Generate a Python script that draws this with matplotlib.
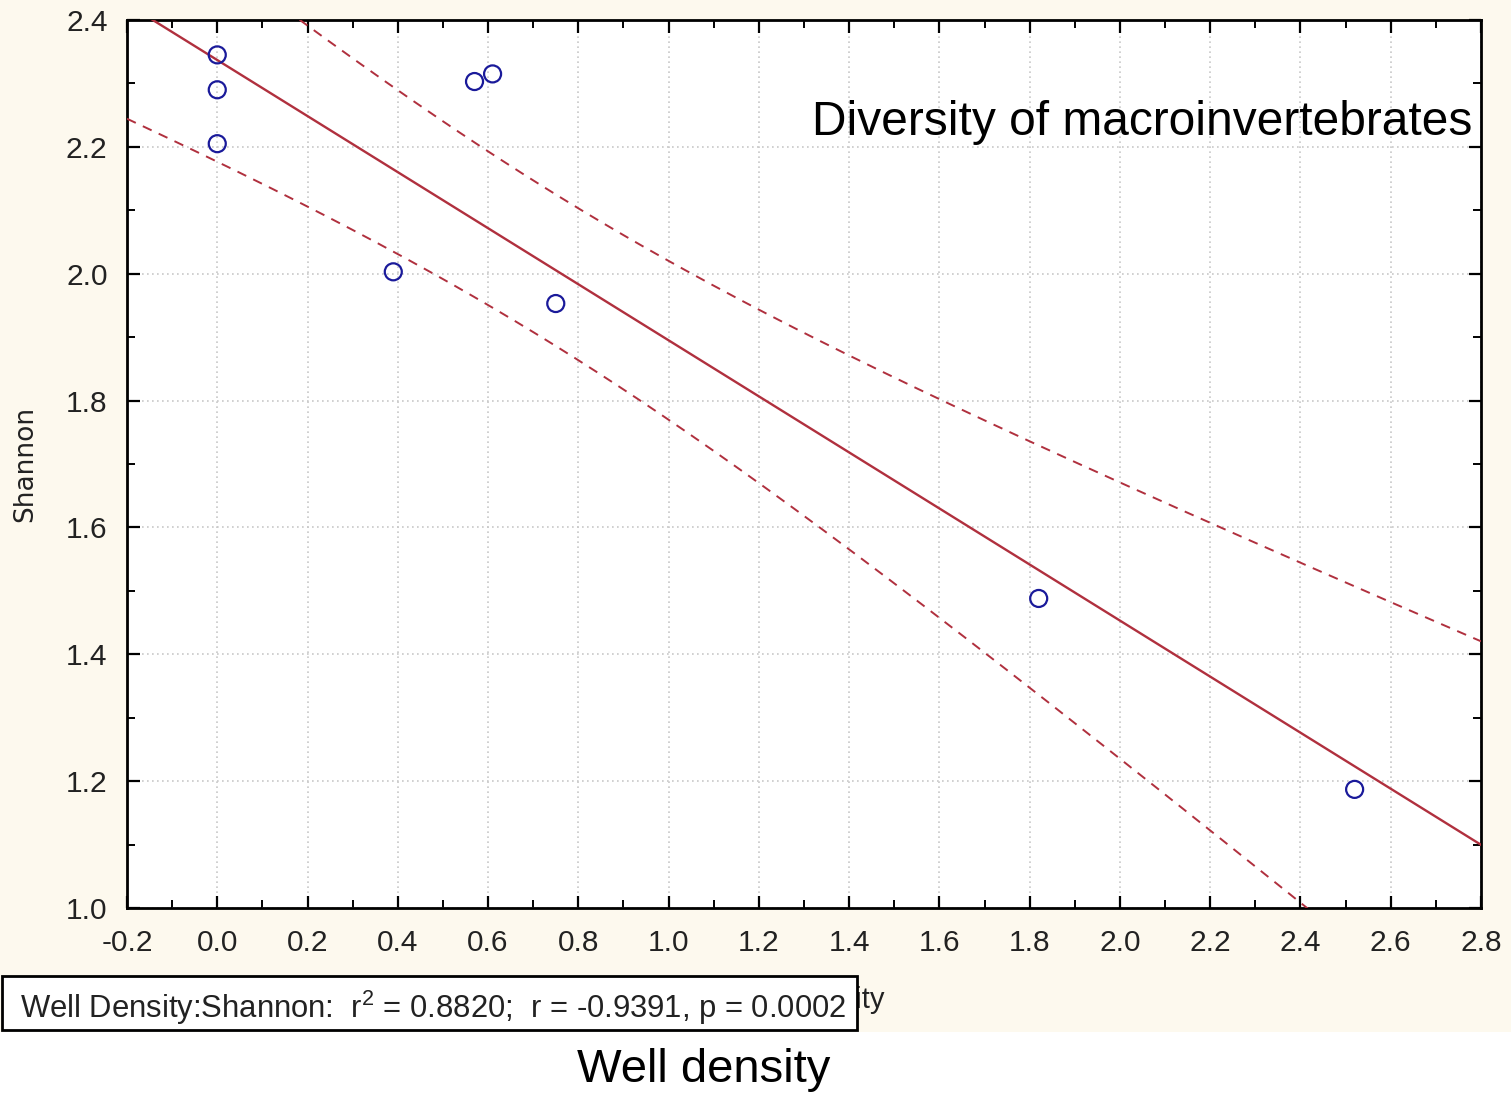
import numpy as np
import matplotlib.pyplot as plt
from matplotlib.patches import Rectangle
from matplotlib.ticker import MultipleLocator

# =========================================================
# DATA
# =========================================================
well_density = [0.0, 0.0, 0.0, 0.39, 0.57, 0.61, 0.75, 1.82, 2.52]
shannon      = [2.345, 2.29, 2.205, 2.003, 2.303, 2.315, 1.953, 1.488, 1.187]

STATS_TEXT = "Well Density:Shannon:  r$^2$ = 0.8820;  r = -0.9391, p = 0.0002"
T_CRIT     = 2.365   # t(0.975, df=7)

LINE_COL = "#b0303e"
MARK_COL = "#1a1a9a"
CREAM    = "#fdf9ee"

plt.rcParams["font.family"] = ["Liberation Sans", "DejaVu Sans"]
plt.rcParams["mathtext.fontset"] = "custom"
plt.rcParams["mathtext.rm"] = "Liberation Sans"

# =========================================================
# FIT + 95% CI of the mean
# =========================================================
x = np.array(well_density)
y = np.array(shannon)
n = len(x)
slope, icpt = np.polyfit(x, y, 1)
resid = y - (icpt + slope * x)
s = np.sqrt(np.sum(resid ** 2) / (n - 2))
sxx = np.sum((x - x.mean()) ** 2)

xs = np.linspace(-0.2, 2.8, 200)
ys = icpt + slope * xs
half = T_CRIT * s * np.sqrt(1 / n + (xs - x.mean()) ** 2 / sxx)

# =========================================================
# FIGURE
# =========================================================
W, H = 1511, 1097
fig = plt.figure(figsize=(W / 100, H / 100), dpi=100, facecolor="white")
fig.patches.append(Rectangle((0, 1 - 1032 / H), 1, 1032 / H, transform=fig.transFigure,
                             facecolor=CREAM, edgecolor="none", zorder=-10))

ax = fig.add_axes([127 / W, 1 - 908 / H, (1481 - 127) / W, (908 - 20) / H])
ax.set_facecolor("white")

ax.plot(xs, ys, color=LINE_COL, lw=1.7, zorder=3)
ax.plot(xs, ys + half, color=LINE_COL, lw=1.4, ls=(0, (5, 4)), zorder=3)
ax.plot(xs, ys - half, color=LINE_COL, lw=1.4, ls=(0, (5, 4)), zorder=3)
ax.scatter(x, y, s=150, facecolors="none", edgecolors=MARK_COL, linewidths=1.6, zorder=4)

ax.set_xlim(-0.2, 2.8)
ax.set_ylim(1.0, 2.4)
ax.xaxis.set_major_locator(MultipleLocator(0.2))
ax.xaxis.set_minor_locator(MultipleLocator(0.1))
ax.yaxis.set_major_locator(MultipleLocator(0.2))
ax.yaxis.set_minor_locator(MultipleLocator(0.1))
ax.xaxis.set_major_formatter(lambda v, p: f"{v:.1f}")
ax.yaxis.set_major_formatter(lambda v, p: f"{v:.1f}")

ax.tick_params(which="both", direction="in", top=True, right=True, color="black")
ax.tick_params(which="major", length=9, width=1.6, labelsize=21.5, labelcolor="#222222")
ax.tick_params(axis="x", which="major", pad=15)
ax.tick_params(axis="y", which="major", pad=14)
ax.tick_params(which="minor", length=6, width=1.4)
ax.grid(True, which="major", color="#c8c8c8", ls=(0, (1, 2)), lw=1.2)
for sp in ax.spines.values():
    sp.set_linewidth(2)

ax.set_ylabel("Shannon", fontsize=19, family=["DejaVu Sans"], color="#222222")
ax.yaxis.set_label_coords((38 - 127) / 1354, 0.5)
# axis title of the original export, mostly hidden by the stats box
ax.set_xlabel("Well Density", fontsize=21, color="#222222")
ax.xaxis.set_label_coords(0.5, -(986 - 908) / 888)

ax.text(0.9935, 1 - (135 - 20) / 888, "Diversity of macroinvertebrates", transform=ax.transAxes,
        ha="right", va="baseline", fontsize=34.5, color="black", zorder=5)

# stats box
fig.patches.append(Rectangle((2 / W, 1 - 1030 / H), 855 / W, 54 / H, transform=fig.transFigure,
                             facecolor="white", edgecolor="black", lw=2, zorder=5))
fig.text(20 / W, 1 - 1018 / H, STATS_TEXT, fontsize=22.3, ha="left", va="baseline",
         color="#222222", zorder=10)

fig.text(704 / W, 1 - 1082 / H, "Well density", fontsize=34,
         ha="center", va="baseline", color="black")

fig.savefig("out.png", dpi=100, facecolor=fig.get_facecolor())
